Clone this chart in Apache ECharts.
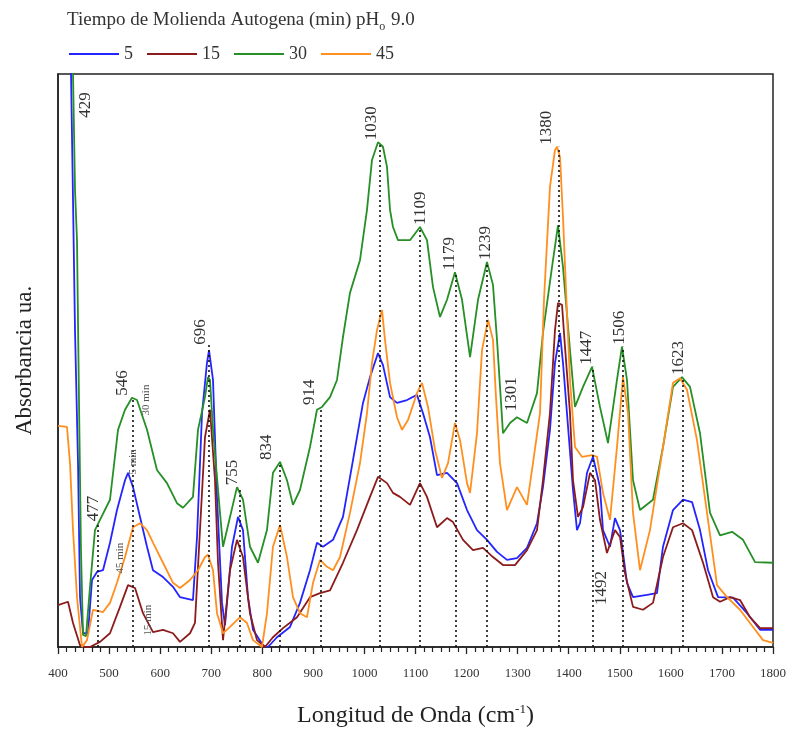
<!DOCTYPE html>
<html>
<head>
<meta charset="utf-8">
<script src="https://cdn.jsdelivr.net/npm/echarts@6/dist/echarts.min.js"></script>
<style>
  html, body { margin: 0; padding: 0; background: #fff; }
  #chart { width: 794px; height: 734px; }
</style>
</head>
<body>
<div id="chart"></div>
<script>
// FTIR spectra, absorbance (arbitrary units) vs wavenumber (cm-1)
const seriesNames = ['5', '15', '30', '45'];
const seriesColors = ['#2424ff', '#8c1c1c', '#268f26', '#ff8f1e'];

const min5 = [
  [421.5,109.4],[425.5,100],[429.4,78.0],[433.3,55.3],[439.2,32.1],[443.1,8.7],[449,2.4],[458.7,2.4],
  [466.6,11.7],[476.4,13.1],[488.1,13.4],[501.8,18.2],[515.5,23.9],[531.2,29.1],[537.1,30.4],[546.9,27.9],
  [560.6,22.7],[574.3,17.5],[586,13.4],[605.6,12.2],[625.2,10.5],[638.9,8.7],[664.3,8.2],[672.2,19.2],
  [682,40.8],[691.7,49.6],[695.7,51.8],[703.5,46.6],[711.3,26.2],[721.1,7.7],[727,3.8],[740.7,17.5],
  [752.5,22.7],[762.2,20.4],[772,8.7],[781.8,3.0],[801.4,0.3],[811.1,0],[828.8,1.7],[854.3,3.5],
  [873.8,7.7],[893.4,13.4],[907.1,18.2],[918.9,17.5],[938.5,18.7],[958,22.7],[977.6,32.6],[997.2,42.6],
  [1010.9,47.1],[1026.6,51.3],[1036.3,49.2],[1050.1,43.6],[1063.8,42.6],[1083.3,43.1],[1102.9,44.0],
  [1114.7,40.8],[1128.4,36.6],[1142.1,30.0],[1161.7,30.4],[1181.3,28.6],[1200.9,23.9],[1220.4,20.4],
  [1240,18.7],[1259.6,16.6],[1279.1,15.2],[1298.7,15.5],[1318.3,17.3],[1337.9,21.6],[1349.6,27.9],
  [1363.3,37.9],[1373.1,49.6],[1383,54.8],[1388.8,49.6],[1396.6,40.8],[1408.4,27.4],[1416.2,20.4],
  [1422.1,21.6],[1435.8,30.4],[1447.5,33.2],[1461.2,27.9],[1467.1,20.4],[1480.8,17.5],[1490.6,22.5],
  [1500.4,20.4],[1514.1,11.2],[1525.9,8.7],[1553.3,9.1],[1572.8,9.4],[1584.6,17.5],[1604.2,23.9],
  [1623.8,25.7],[1641.5,25.3],[1657.1,20.4],[1672.8,13.4],[1692.4,8.7],[1721.7,8.6],[1749.1,5.9],
  [1774.6,3.0],[1800,3.0]
];

const min15 = [
  [400,7.3],[419.6,7.9],[429.4,4.2],[443.1,0.3],[454.8,0],[462.7,0],[482.2,0.9],[501.8,2.4],[521.4,7.0],
  [537.1,10.8],[550.8,10.3],[566.4,5.9],[586,2.6],[605.6,3.0],[625.2,2.4],[638.9,0.9],[658.5,2.4],
  [668.2,4.2],[678,20.4],[687.8,36.6],[697.6,41.4],[707.4,29.1],[713.3,14.7],[723.1,1.2],[736.8,13.4],
  [750.5,18.7],[762.2,15.7],[775.9,5.9],[789.6,1.2],[805.3,0],[820.9,1.7],[840.6,3.3],[868,5.2],
  [893.4,8.7],[913,9.4],[932.6,9.9],[958,14.7],[985.4,20.4],[1010.9,26.2],[1026.6,29.7],[1044.2,28.6],
  [1055.9,26.9],[1069.6,26.2],[1089.2,24.8],[1108.8,28.6],[1122.5,26.2],[1142.1,20.9],[1161.7,22.5],
  [1173.4,21.8],[1193.1,18.7],[1212.6,16.9],[1232.2,17.3],[1251.7,15.7],[1271.3,14.3],[1294.8,14.3],
  [1318.3,16.9],[1337.9,20.4],[1349.6,29.1],[1363.3,40.8],[1373.1,55.3],[1379,60.0],[1386.9,59.7],
  [1392.7,52.4],[1402.5,40.8],[1408.4,29.1],[1418.2,22.7],[1428,24.4],[1441.7,30.4],[1451.5,29.1],
  [1461.2,22.2],[1474.9,16.4],[1490.6,20.4],[1500.4,19.2],[1510.2,12.9],[1525.9,7.0],[1545.4,6.5],
  [1565,7.7],[1584.6,15.7],[1604.2,20.9],[1623.8,21.6],[1641.5,20.4],[1663,14.7],[1682.6,8.7],
  [1696.3,7.9],[1715.9,8.7],[1735.4,8.2],[1755,5.2],[1774.6,3.3],[1800,3.3]
];

const min30 = [
  [425.5,109.4],[429.4,100],[433.3,79.8],[437.2,71.0],[441.1,43.1],[445,16.9],[449,2.1],[454.8,1.9],
  [462.7,10.5],[472.4,20.4],[482.2,22.2],[501.8,25.7],[517.5,37.9],[531.2,41.4],[544.9,43.5],[554.7,43.1],
  [574.3,37.9],[593.8,30.9],[613.4,28.6],[633,25.1],[644.8,24.3],[664.3,26.2],[674.1,37.9],[687.8,43.6],
  [693.7,47.1],[697.6,46.6],[703.5,37.9],[717.2,23.4],[723.1,17.5],[736.8,22.7],[750.5,27.9],[762.2,25.7],
  [775.9,17.5],[791.6,14.7],[809.2,20.4],[820.9,30.4],[834.7,32.3],[848.4,29.1],[860.1,24.8],[873.8,27.4],
  [893.4,34.9],[907.1,41.4],[916.9,41.9],[932.6,43.6],[946.3,46.6],[958,54.1],[971.7,61.8],[991.3,67.5],
  [1005,76.3],[1014.8,85.0],[1026.6,88.1],[1036.3,87.3],[1044.2,83.8],[1050.1,76.3],[1055.9,73.3],
  [1065.7,71.0],[1089.2,71.0],[1108.8,73.3],[1122.5,71.0],[1134.3,62.8],[1148,57.6],[1161.7,60.6],
  [1177.3,65.4],[1191.1,60.6],[1206.8,50.6],[1222.4,60.6],[1240,67.2],[1251.7,63.2],[1259.6,53.6],
  [1271.3,37.3],[1285,39.1],[1298.7,40.1],[1318.3,39.1],[1337.9,44.3],[1349.6,54.8],[1367.3,66.3],
  [1379,73.6],[1388.8,66.3],[1402.5,51.8],[1412.3,41.9],[1428,45.4],[1445.6,48.9],[1461.2,41.9],
  [1476.9,35.6],[1494.5,46.6],[1504.3,52.4],[1514.1,46.6],[1525.9,29.1],[1539.6,23.9],[1565,25.7],
  [1584.6,34.9],[1604.2,45.4],[1621.8,47.1],[1637.5,45.4],[1657.1,37.3],[1676.7,23.4],[1696.3,19.5],
  [1719.8,20.1],[1741.3,18.7],[1764.8,14.8],[1800,14.7]
];

const min45 = [
  [400,38.6],[417.6,38.4],[423.5,32.1],[429.4,20.4],[437.2,8.7],[447,0],[456.8,1.2],[468.5,6.5],
  [488.1,6.1],[501.8,7.7],[515.5,11.2],[531.2,15.7],[546.9,20.9],[560.6,21.6],[574.3,20.4],[586,18.2],
  [605.6,14.7],[625.2,11.2],[638.9,10.3],[658.5,11.7],[674.1,13.4],[687.8,15.7],[693.7,16.1],[703.5,13.4],
  [711.3,5.9],[723.1,2.4],[736.8,3.5],[756.4,5.2],[770,4.2],[781.8,1.2],[799.4,0],[809.2,5.9],
  [820.9,17.5],[834.7,21.3],[848.4,15.7],[860.1,8.7],[873.8,5.9],[887.5,5.2],[899.3,11.2],[913,15.2],
  [926.7,14.0],[938.5,13.4],[952.2,15.7],[971.7,23.4],[991.3,32.1],[1005,40.8],[1014.8,49.6],
  [1024.6,55.3],[1034.4,58.8],[1040.3,53.6],[1050.1,46.1],[1063.8,40.1],[1073.6,37.9],[1085.3,39.6],
  [1102.9,44.3],[1112.7,46.1],[1124.5,41.9],[1138.2,34.4],[1151.9,29.5],[1163.7,32.1],[1177.3,39.1],
  [1187.2,36.1],[1200.9,28.6],[1206.8,26.9],[1220.4,37.3],[1230.2,51.8],[1242,57.1],[1251.7,53.6],
  [1257.6,43.6],[1265.4,32.1],[1279.1,23.9],[1298.7,27.9],[1318.3,24.8],[1330,32.1],[1343.8,40.8],
  [1351.6,60.6],[1363.3,80.3],[1373.1,86.7],[1377.1,87.3],[1383,85.5],[1388.8,75.0],[1396.6,58.3],
  [1402.5,46.6],[1412.3,34.9],[1426,33.2],[1445.6,33.5],[1455.4,33.2],[1467.1,26.9],[1480.8,22.2],
  [1494.5,34.9],[1506.3,47.1],[1516.1,40.8],[1525.9,23.4],[1539.6,13.4],[1559.1,20.4],[1584.6,34.9],
  [1604.2,46.1],[1617.9,46.9],[1631.6,44.9],[1651.2,36.1],[1670.8,23.4],[1690.4,10.8],[1710,8.7],
  [1735.4,6.5],[1760.9,3.5],[1780.4,1.2],[1800,0.7]
];

// assigned bands: wavenumber, height of the dotted guide (null = label only), label foot
const peakWavenumbers = [429, 477, 546, 696, 755, 834, 914, 1030, 1109, 1179, 1239, 1301, 1380, 1447, 1492, 1506, 1623];
const peakLineTops    = [null, 21.6, 43.5, 52.9, 27.9, 32.3, 41.9, 88.1, 73.3, 65.4, 67.2, null, 87.3, 48.9, null, 52.4, 47.1];
const peakLabelFoot   = [92.0, 21.6, 43.5, 52.4, 27.9, 32.3, 41.9, 88.1, 73.3, 65.4, 67.2, 40.8, 87.3, 48.9, 7.0, 52.4, 47.1];
// sideways nudge of each rotated band label, in px
const peakLabelShift  = [13, -4, -10, -9, -7, -13, -11, -8, 0, -6, -1, -7, -12, -6, -14, -3, -4];

// small curve notes near the 546 band
const curveNotes   = ['30 min', '5 min', '45 min', '15 min'];
const curveNoteAt  = [[572, 43.1], [547, 32.3], [521, 15.5], [576, 4.7]];

const SERIF = '"Liberation Serif", "DejaVu Serif", serif';
const chart = echarts.init(document.getElementById('chart'), null, { renderer: 'canvas' });

const spectra = [min5, min15, min30, min45].map((d, i) => ({
  name: seriesNames[i],
  type: 'line',
  data: d,
  symbol: 'none',
  smooth: false,
  clip: true,
  lineStyle: { color: seriesColors[i], width: 1.8 },
  itemStyle: { color: seriesColors[i] },
  emphasis: { disabled: true },
  z: 2
}));

const guideLines = [];
peakWavenumbers.forEach((wn, i) => {
  if (peakLineTops[i] != null) {
    guideLines.push([{ coord: [wn, 0] }, { coord: [wn, peakLineTops[i]] }]);
  }
});

chart.setOption({
  animation: false,
  backgroundColor: '#fff',
  grid: { left: 58, right: 21, top: 74, bottom: 87, show: true, borderColor: '#222', borderWidth: 1.5 },
  legend: {
    data: seriesNames,
    icon: 'rect',
    left: 64, top: 40,
    itemWidth: 50, itemHeight: 2, itemGap: 14,
    textStyle: { fontFamily: SERIF, fontSize: 18, color: '#333' }
  },
  xAxis: {
    type: 'value', min: 400, max: 1800, interval: 100,
    name: 'Longitud de Onda (cm{sup|-1})',
    nameLocation: 'middle', nameGap: 56,
    nameTextStyle: {
      fontFamily: SERIF, fontSize: 24, color: '#222',
      rich: { sup: { fontFamily: SERIF, fontSize: 13, color: '#222', padding: [0, 0, 12, 0] } }
    },
    axisLine: { show: true, lineStyle: { color: '#222', width: 1.5 } },
    axisTick: { show: true, length: 7, lineStyle: { color: '#222', width: 1.3 } },
    minorTick: { show: true, splitNumber: 6, length: 5, lineStyle: { color: '#222', width: 1.2 } },
    axisLabel: { fontFamily: SERIF, fontSize: 13, color: '#333', margin: 20, formatter: v => String(v) },
    splitLine: { show: false }
  },
  yAxis: {
    type: 'value', min: 0, max: 100,
    name: 'Absorbancia ua.',
    nameLocation: 'middle', nameGap: 22, nameRotate: 90,
    nameTextStyle: { fontFamily: SERIF, fontSize: 23, color: '#222' },
    axisLine: { show: true, lineStyle: { color: '#222', width: 1.5 } },
    axisTick: { show: false },
    axisLabel: { show: false },
    splitLine: { show: false }
  },
  series: spectra.concat([{
    name: 'bands',
    type: 'line',
    data: [],
    silent: true,
    z: 3,
    markLine: {
      silent: true,
      symbol: 'none',
      label: { show: false },
      lineStyle: { color: '#111', width: 1.6, type: [2, 3] },
      emphasis: { disabled: true },
      data: guideLines
    }
  }])
});

// rotated text placed through the axes' scales
const graphics = [{
  type: 'text', left: 67, top: 11, silent: true,
  style: {
    text: 'Tiempo de Molienda Autogena (min) pH{s|o} 9.0',
    font: '19px ' + SERIF, fill: '#333',
    rich: { s: { font: '12px ' + SERIF, fill: '#333', padding: [12, 1, 0, 0] } }
  }
}];

peakWavenumbers.forEach((wn, i) => {
  const p = chart.convertToPixel({ gridIndex: 0 }, [wn, peakLabelFoot[i]]);
  graphics.push({
    type: 'text', silent: true,
    x: p[0] + peakLabelShift[i], y: p[1] - 2,
    rotation: Math.PI / 2,
    style: { text: String(wn), font: '17px ' + SERIF, fill: '#333', align: 'left', verticalAlign: 'middle' },
    z: 10
  });
});

curveNotes.forEach((t, i) => {
  const p = chart.convertToPixel({ gridIndex: 0 }, curveNoteAt[i]);
  graphics.push({
    type: 'text', silent: true,
    x: p[0], y: p[1],
    rotation: Math.PI / 2,
    style: { text: t, font: '11px ' + SERIF, fill: '#555', align: 'center', verticalAlign: 'middle' },
    z: 10
  });
});

chart.setOption({ graphic: graphics });
</script>
</body>
</html>
